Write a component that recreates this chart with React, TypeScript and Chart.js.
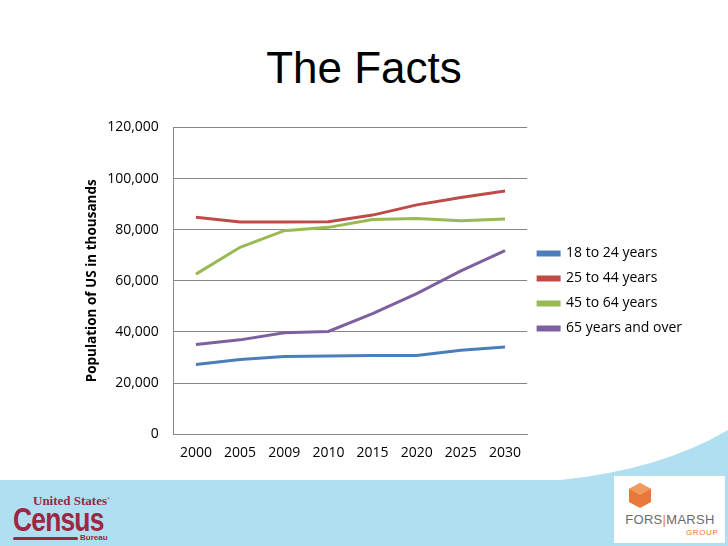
import React, { useEffect, useRef } from "react";
import { Chart, registerables } from "chart.js";

Chart.register(...registerables);

const categories = ["2000", "2005", "2009", "2010", "2015", "2020", "2025", "2030"];
const age18to24 = [27300, 29200, 30400, 30600, 30800, 30800, 32800, 34100];
const age25to44 = [84900, 83000, 83000, 83100, 85700, 89700, 92600, 95100];
const age45to64 = [62600, 73100, 79600, 80900, 84000, 84400, 83500, 84200];
const age65plus = [35100, 36900, 39700, 40200, 47200, 55000, 63900, 71800];
const seriesNames = ["18 to 24 years", "25 to 44 years", "45 to 64 years", "65 years and over"];
const yTicks = [0, 20000, 40000, 60000, 80000, 100000, 120000];

const FONT = "'Open Sans', sans-serif";

export default function App() {
  const ref = useRef<HTMLCanvasElement>(null);

  useEffect(() => {
    document.body.style.margin = "0";
    const colors = ["#4a7ebb", "#be4b48", "#98b954", "#7d60a0"];
    const data = [age18to24, age25to44, age45to64, age65plus];
    let chart: Chart | null = null;
    let cancelled = false;
    const make = () => {
      if (cancelled || !ref.current) return;
      chart = new Chart(ref.current, {
        type: "line",
        data: {
          labels: categories,
          datasets: data.map((d, i) => ({
            label: seriesNames[i],
            data: d,
            borderColor: colors[i],
            backgroundColor: colors[i],
            borderWidth: 3,
            pointRadius: 0,
            tension: 0,
          })),
        },
        options: {
          animation: false,
          responsive: false,
          events: [],
          layout: { padding: { top: 7, bottom: -3, left: 0, right: 13 } },
          plugins: {
            legend: {
              position: "right",
              maxWidth: 200,
              labels: {
                boxWidth: 21,
                boxHeight: 3,
                padding: 11,
                color: "#000",
                font: { family: FONT, size: 14 },
              },
            },
            tooltip: { enabled: false },
          },
          scales: {
            x: {
              offset: true,
              grid: { display: false, drawTicks: false },
              border: { display: true, color: "#868686", width: 1 },
              ticks: { color: "#000", padding: 10, font: { family: FONT, size: 14 }, maxRotation: 0 },
            },
            y: {
              min: 0,
              max: 120000,
              afterBuildTicks: (s: any) => {
                s.ticks = yTicks.map((v) => ({ value: v }));
              },
              grid: { color: "#868686", lineWidth: 1, drawTicks: false },
              border: { display: true, color: "#868686", width: 1 },
              ticks: {
                color: "#000",
                padding: 15,
                font: { family: FONT, size: 14 },
                callback: (v: any) => Number(v).toLocaleString("en-US"),
              },
              title: {
                display: true,
                text: "Population of US in thousands",
                color: "#000",
                font: { family: FONT, size: 13.5, weight: "bold" },
                padding: { top: 0, bottom: -8 },
              },
            },
          },
        },
      });
    };
    const fonts: any = (document as any).fonts;
    if (fonts && fonts.load) {
      Promise.all([
        fonts.load("14px 'Open Sans'"),
        fonts.load("bold 14px 'Open Sans'"),
      ]).then(make, make);
    } else {
      make();
    }
    return () => {
      cancelled = true;
      if (chart) chart.destroy();
    };
  }, []);

  return (
    <div style={{ position: "fixed", left: 0, top: 0, width: 728, height: 546, background: "#fff", overflow: "hidden" }}>
      <svg width={728} height={546} style={{ position: "absolute", left: 0, top: 0 }}>
        <path d="M0 480 L560 480 Q660 470 728 430 L728 546 L0 546 Z" fill="#b1dff2" />
        <rect x={614} y={476} width={111} height={67} fill="#fff" />
        <g transform="translate(628,483)">
          <polygon points="12,0 23,6 23,19 12,25 1,19 1,6" fill="#e8773a" />
          <polygon points="12,0 23,6 12,12 1,6" fill="#f19a5e" />
        </g>
      </svg>
      <div style={{ position: "absolute", left: 620, top: 512, width: 100, textAlign: "center", fontFamily: "'Liberation Sans', sans-serif", fontSize: 13, color: "#6b6b6b", letterSpacing: 0.3 }}>
        FORS<span style={{ color: "#e8773a" }}>|</span>MARSH
      </div>
      <div style={{ position: "absolute", left: 686, top: 528, fontFamily: "'Liberation Sans', sans-serif", fontSize: 8, color: "#e8773a", letterSpacing: 0.6 }}>GROUP</div>
      <div style={{ position: "absolute", left: 13, top: 494, width: 110, fontFamily: "'Liberation Serif', serif", color: "#9b2743", lineHeight: 1 }}>
        <div style={{ fontSize: 13, fontWeight: "bold", marginLeft: 20 }}>United States<sup style={{ fontSize: 4 }}>®</sup></div>
        <div style={{ fontFamily: "'Liberation Sans Narrow', 'Liberation Sans', sans-serif", fontSize: 33, fontWeight: "bold", marginTop: -4, transform: "scaleX(0.8)", transformOrigin: "left", letterSpacing: -1 }}>Census</div>
        <div style={{ display: "flex", alignItems: "center", marginTop: -2 }}>
          <div style={{ width: 65, height: 3, background: "#9b2743", borderRadius: 2 }} />
          <span style={{ fontFamily: "'Liberation Sans', sans-serif", fontSize: 8, fontWeight: "bold", marginLeft: 2 }}>Bureau</span>
        </div>
      </div>
      <div style={{ position: "absolute", left: 0, top: 40, width: 728, textAlign: "center", fontFamily: "'Liberation Sans', Arial, sans-serif", fontSize: 44, color: "#000", lineHeight: "56px" }}>
        The Facts
      </div>
      <canvas ref={ref} width={621} height={364} style={{ position: "absolute", left: 84, top: 104 }} />
    </div>
  );
}
